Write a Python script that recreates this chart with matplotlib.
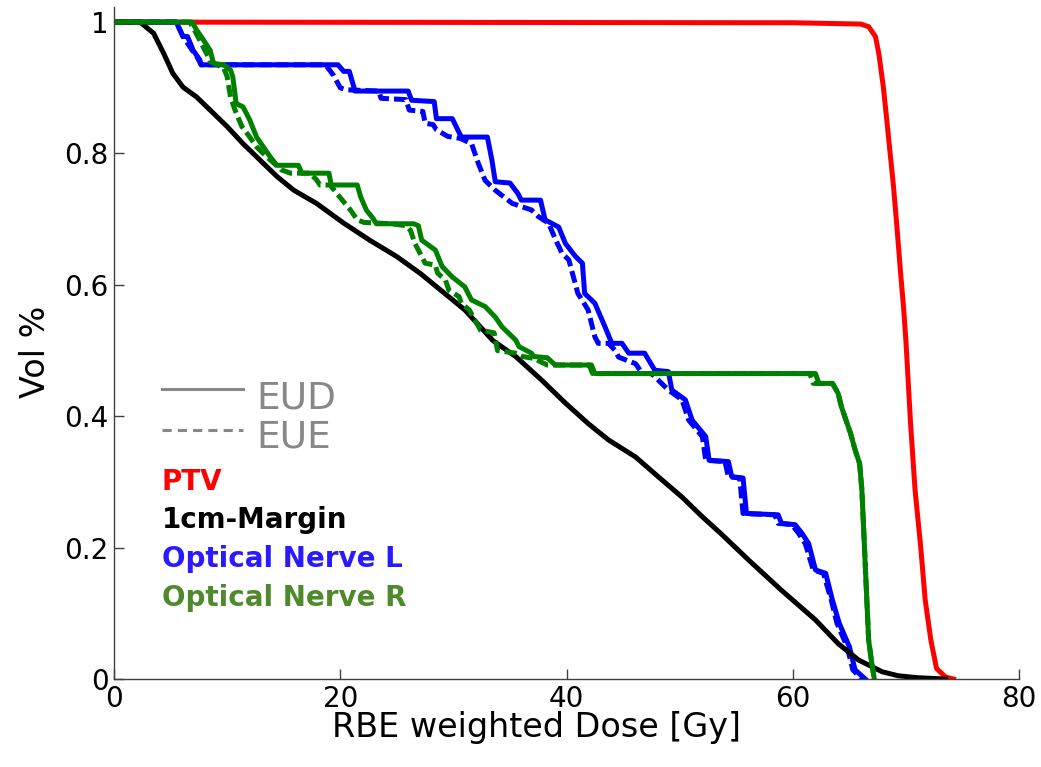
import numpy as np
import matplotlib
matplotlib.use('Agg')
import matplotlib.pyplot as plt

plt.rcParams['font.family'] = ['DejaVu Sans']

# dose-volume histogram points (dose in Gy, volume fraction)
ptv_dose = [0, 60, 66.0, 66.7, 67.3, 67.6, 68.0, 68.3, 68.6, 68.9, 69.2, 69.5,
            69.8, 70.0, 70.4, 70.8, 71.3, 71.7, 72.2, 72.7, 73.5, 74.2]
ptv_vol = [1, 0.999, 0.997, 0.993, 0.978, 0.952, 0.901, 0.851, 0.800, 0.749, 0.688, 0.623,
           0.562, 0.513, 0.390, 0.288, 0.201, 0.120, 0.059, 0.016, 0.003, 0.0]

margin_dose = [0, 2.3, 3.5, 4.4, 5.2, 6.1, 7.3, 8.5, 10.0, 11.4, 12.9, 14.4, 15.9, 17.9,
               20.3, 22.6, 25.0, 27.1, 31.0, 33.5, 35.5, 37.8, 39.9, 41.9, 43.7, 46.1,
               48.1, 50.2, 52.0, 53.6, 56.1, 59.0, 62.0, 64.0, 65.8, 67.9, 69.3, 71.0, 73.5]
margin_vol = [1, 1, 0.983, 0.952, 0.922, 0.901, 0.886, 0.866, 0.841, 0.815, 0.790, 0.765,
              0.744, 0.724, 0.694, 0.668, 0.643, 0.617, 0.562, 0.515, 0.491, 0.455, 0.420,
              0.389, 0.364, 0.338, 0.308, 0.277, 0.247, 0.222, 0.181, 0.135, 0.090, 0.054,
              0.029, 0.011, 0.005, 0.002, 0.0]

nerveL_eud_dose = [0, 5.5, 6.1, 6.5, 7.0, 7.6, 7.7, 19.8, 20.3, 20.8, 21.3, 26.0, 26.3, 28.3,
                   28.5, 29.9, 30.7, 33.0, 33.4, 33.7, 35.0, 35.7, 36.0, 37.7, 38.1, 39.3,
                   39.9, 40.8, 41.4, 41.6, 42.5, 43.4, 44.0, 44.9, 45.5, 46.9, 47.8, 49.0,
                   49.3, 50.5, 51.1, 52.3, 52.6, 54.3, 54.6, 55.6, 55.9, 58.7, 59.0, 60.2,
                   60.8, 61.4, 62.0, 62.9, 63.5, 64.1, 65.0, 65.5, 66.4]
nerveL_eud_vol = [1, 1, 0.978, 0.978, 0.957, 0.942, 0.935, 0.935, 0.925, 0.925, 0.895, 0.895,
                  0.881, 0.879, 0.853, 0.853, 0.825, 0.825, 0.790, 0.757, 0.755, 0.739,
                  0.729, 0.729, 0.699, 0.688, 0.663, 0.643, 0.633, 0.587, 0.572, 0.536,
                  0.511, 0.511, 0.496, 0.496, 0.470, 0.468, 0.440, 0.425, 0.394, 0.369,
                  0.333, 0.331, 0.308, 0.306, 0.252, 0.250, 0.237, 0.235, 0.222, 0.206,
                  0.166, 0.161, 0.120, 0.085, 0.049, 0.014, 0.0]

nerveL_eue_dose = [0, 5.5, 6.1, 6.8, 7.4, 7.7, 18.7, 19.4, 20.0, 20.5, 23.4, 23.6, 25.8, 26.1,
                   27.3, 27.5, 28.2, 28.5, 29.5, 30.6, 31.6, 32.2, 32.8, 33.7, 35.2, 36.9,
                   37.5, 38.4, 39.0, 39.6, 40.2, 41.0, 41.9, 42.5, 42.8, 43.7, 44.3, 44.6,
                   46.1, 46.7, 47.5, 49.0, 50.2, 50.8, 52.0, 52.3, 54.0, 54.3, 55.3, 55.6,
                   58.4, 58.7, 59.9, 60.5, 61.1, 61.8, 62.7, 63.4, 63.9, 64.8, 65.3, 66.1]
nerveL_eue_vol = [1, 1, 0.978, 0.960, 0.945, 0.935, 0.935, 0.919, 0.900, 0.897, 0.895, 0.884,
                  0.882, 0.866, 0.864, 0.846, 0.844, 0.836, 0.826, 0.823, 0.815, 0.785,
                  0.759, 0.744, 0.724, 0.714, 0.704, 0.694, 0.670, 0.648, 0.638, 0.587,
                  0.562, 0.521, 0.511, 0.511, 0.500, 0.490, 0.480, 0.465, 0.465, 0.440,
                  0.425, 0.394, 0.369, 0.333, 0.331, 0.308, 0.306, 0.252, 0.250, 0.237,
                  0.235, 0.222, 0.206, 0.166, 0.161, 0.120, 0.085, 0.049, 0.014, 0.0]

nerveR_eud_dose = [0, 6.9, 7.3, 7.9, 8.5, 8.8, 9.7, 10.3, 10.5, 10.8, 11.4, 12.0, 12.6, 13.2,
                   13.8, 14.4, 16.3, 16.6, 19.0, 19.2, 21.5, 21.8, 22.3, 22.9, 23.2, 26.5,
                   26.9, 27.2, 28.4, 29.0, 29.9, 31.0, 31.6, 32.8, 33.7, 34.3, 35.5, 35.8,
                   36.9, 37.1, 38.3, 39.0, 42.2, 42.5, 62.0, 62.3, 63.5, 64.0, 64.3, 64.8,
                   65.1, 65.5, 65.9, 66.1, 66.3, 66.5, 66.7, 67.0, 67.2]
nerveR_eud_vol = [1, 1, 0.988, 0.973, 0.957, 0.937, 0.935, 0.927, 0.917, 0.876, 0.871, 0.851,
                  0.825, 0.810, 0.795, 0.782, 0.782, 0.770, 0.770, 0.752, 0.752, 0.734,
                  0.714, 0.701, 0.693, 0.693, 0.690, 0.668, 0.653, 0.628, 0.612, 0.597,
                  0.577, 0.567, 0.551, 0.536, 0.516, 0.506, 0.496, 0.491, 0.489, 0.478,
                  0.478, 0.465, 0.465, 0.450, 0.450, 0.435, 0.414, 0.389, 0.374, 0.349,
                  0.328, 0.288, 0.212, 0.135, 0.059, 0.021, 0.0]

nerveR_eue_dose = [0, 6.7, 7.2, 7.8, 8.4, 8.5, 9.7, 10.0, 10.3, 10.7, 11.3, 12.0, 12.6, 13.5,
                   14.8, 15.6, 17.3, 17.9, 18.2, 19.1, 19.7, 20.9, 21.5, 22.1, 24.6, 25.8,
                   26.2, 26.6, 27.5, 28.4, 28.6, 29.3, 29.6, 30.5, 30.7, 31.4, 32.4, 33.6,
                   33.9, 35.5, 36.1, 37.1, 38.3, 42.0, 42.3, 61.5, 61.8, 63.5, 64.0, 64.3,
                   64.8, 65.1, 65.5, 65.9, 66.1, 66.3, 66.5, 66.7, 67.0, 67.2]
nerveR_eue_vol = [1, 1, 0.985, 0.965, 0.945, 0.940, 0.930, 0.917, 0.886, 0.866, 0.841, 0.825,
                  0.810, 0.795, 0.775, 0.770, 0.770, 0.760, 0.752, 0.752, 0.739, 0.714,
                  0.699, 0.695, 0.693, 0.690, 0.683, 0.663, 0.633, 0.630, 0.618, 0.607,
                  0.592, 0.582, 0.572, 0.562, 0.531, 0.527, 0.500, 0.496, 0.491, 0.488,
                  0.478, 0.478, 0.465, 0.465, 0.450, 0.450, 0.435, 0.414, 0.389, 0.374,
                  0.349, 0.328, 0.288, 0.212, 0.135, 0.059, 0.021, 0.0]

structures = ['PTV', '1cm-Margin', 'Optical Nerve L', 'Optical Nerve R']
label_colors = ['#ff0000', '#000000', '#2a1aff', '#4e8a2c']
xticks = [0, 20, 40, 60, 80]
yticks = [0, 0.2, 0.4, 0.6, 0.8, 1]

lw = 3.6
dash = (2.4, 1.0)

fig = plt.figure(figsize=(10.41, 7.67), dpi=100)
ax = fig.add_axes([0.1095, 0.1147, 0.8695, 0.8762])

ax.plot(ptv_dose, ptv_vol, color='#ff0000', lw=lw)
ax.plot(nerveL_eue_dose, nerveL_eue_vol, color='#0000ff', lw=lw, dashes=dash)
ax.plot(nerveL_eud_dose, nerveL_eud_vol, color='#0000ff', lw=lw)
ax.plot(margin_dose, margin_vol, color='#000000', lw=lw)
ax.plot(nerveR_eue_dose, nerveR_eue_vol, color='#008000', lw=lw, dashes=dash)
ax.plot(nerveR_eud_dose, nerveR_eud_vol, color='#008000', lw=lw)

ax.set_xlim(0, 80)
ax.set_ylim(0, 1.023)
ax.set_xticks(xticks)
ax.set_xticklabels([str(t) for t in xticks])
ax.set_yticks(yticks)
ax.set_yticklabels(['0', '0.2', '0.4', '0.6', '0.8', '1'])
for s in ['top', 'right']:
    ax.spines[s].set_visible(False)
for s in ['left', 'bottom']:
    ax.spines[s].set_color('#404040')
    ax.spines[s].set_linewidth(1.0)
ax.tick_params(direction='in', length=7.5, width=1.0, color='#404040', labelsize=20)
ax.tick_params(axis='x', pad=4)
ax.tick_params(axis='y', pad=4)

fig.text(0.515, 0.052, 'RBE weighted Dose [Gy]', fontsize=24, ha='center', va='center')
fig.text(0.034, 0.541, 'Vol %', fontsize=24, rotation=90, ha='center', va='center')

# style key (EUD solid / EUE dashed)
ax.plot([4.24, 11.4], [0.441, 0.441], color='#888888', lw=2.2)
ax.plot([4.24, 11.4], [0.379, 0.379], color='#888888', lw=2.2, dashes=(3, 2))
ax.text(12.6, 0.412, 'EUD', color='#888888', fontsize=27, va='baseline')
ax.text(12.6, 0.352, 'EUE', color='#888888', fontsize=27, va='baseline')

label_y = [0.288, 0.230, 0.170, 0.111]
for name, c, yy in zip(structures, label_colors, label_y):
    ax.text(4.24, yy, name, color=c, fontsize=20, fontweight='bold', va='baseline')

fig.savefig('out.png', dpi=100)
